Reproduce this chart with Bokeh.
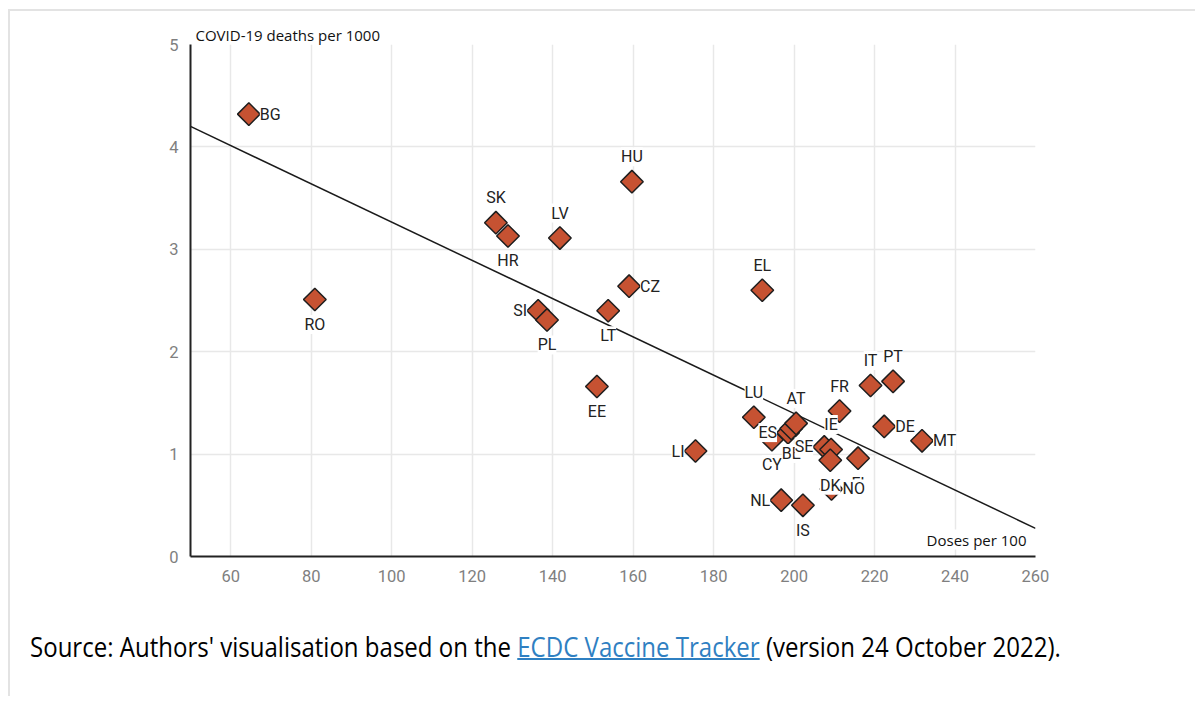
import math
from bokeh.plotting import figure
from bokeh.models import ColumnDataSource, FixedTicker, Label, Div, Range1d
from bokeh.layouts import column
from bokeh.embed import file_html
from bokeh.resources import INLINE
from bokeh.core.properties import value

# ---- data ----
countries = ["BG", "RO", "SK", "HR", "LV", "HU", "SI", "PL", "LT", "CZ",
             "EE", "EL", "LI", "LU", "CY", "ES", "BE", "AT", "FR", "IT",
             "PT", "DE", "MT", "SE", "IE", "DK", "FI", "NO", "NL", "IS"]
doses = [64.5, 80.9, 125.9, 128.9, 141.8, 159.7, 136.4, 138.6, 153.8, 159.0,
         151.0, 192.1, 175.5, 190.0, 194.5, 198.5, 199.3, 200.5, 211.3, 219.0,
         224.6, 222.4, 231.8, 207.5, 209.2, 209.0, 215.9, 209.3, 196.8, 202.2]
deaths = [4.32, 2.51, 3.26, 3.13, 3.11, 3.66, 2.40, 2.31, 2.40, 2.64,
          1.66, 2.60, 1.03, 1.36, 1.14, 1.21, 1.25, 1.30, 1.42, 1.67,
          1.71, 1.27, 1.13, 1.07, 1.045, 0.94, 0.96, 0.66, 0.55, 0.50]
label_side = ["r", "b", "a", "b", "a", "a", "l", "b", "b", "r",
              "b", "a", "l", "a", "b", "l", "b", "a", "a", "a",
              "a", "r", "r", "l", "a", "b", "b", "r", "l", "b"]

trend_x = [50, 260]
trend_y = [4.20, 0.275]

x_ticks = [60, 80, 100, 120, 140, 160, 180, 200, 220, 240, 260]
y_ticks = [0, 1, 2, 3, 4, 5]

# ---- label placement ----
off = {"r": (11, 0, "left"), "l": (-11, 0, "right"),
       "a": (0, -25, "center"), "b": (0, 25, "center")}
src = ColumnDataSource(dict(
    x=doses, y=deaths, name=countries,
    dx=[off[s][0] for s in label_side],
    dy=[off[s][1] for s in label_side],
    align=[off[s][2] for s in label_side],
))

p = figure(frame_width=845, frame_height=512,
           x_range=Range1d(50, 260), y_range=Range1d(0, 5),
           output_backend="svg", toolbar_location=None,
           min_border_left=180, min_border_top=33,
           min_border_right=150, min_border_bottom=40)
p.outline_line_color = None
p.background_fill_color = "white"
p.border_fill_color = "white"

p.title.text = "COVID-19 deaths per 1000"
p.title.text_font = "Open Sans"
p.title.text_font_size = "15px"
p.title.text_font_style = "normal"
p.title.text_color = "#111111"
p.title.align = "left"
p.title.offset = 5
p.title.standoff = 0

for ax in (p.xaxis[0], p.yaxis[0]):
    ax.axis_line_color = "#222222"
    ax.axis_line_width = 2
    ax.major_tick_line_color = None
    ax.minor_tick_line_color = None
    ax.major_tick_out = 0
    ax.major_tick_in = 0
    ax.minor_tick_out = 0
    ax.major_label_text_color = "#7f7f7f"
    ax.major_label_text_font = "Roboto"
    ax.major_label_text_font_size = "16.5px"
p.xaxis.ticker = FixedTicker(ticks=x_ticks)
p.yaxis.ticker = FixedTicker(ticks=y_ticks)
p.xaxis.major_label_standoff = 13
p.yaxis.major_label_standoff = 12

p.xgrid.ticker = FixedTicker(ticks=x_ticks)
p.ygrid.ticker = FixedTicker(ticks=y_ticks)
p.grid.grid_line_color = "#e8e8e8"
p.grid.grid_line_width = 1.5

p.line(trend_x, trend_y, line_color="#1a1a1a", line_width=1.5)

p.scatter("x", "y", source=src, marker="square", size=16, angle=math.pi / 4,
          fill_color="#C65232", line_color="#1e1e1e", line_width=1.5)

p.text("x", "y", text="name", source=src, x_offset="dx", y_offset="dy",
       text_align="align", text_baseline="middle",
       text_font=value("Roboto"), text_font_size="16px", text_color="#222222",
       background_fill_color="white", background_fill_alpha=1.0)

p.add_layout(Label(x=260, y=0, x_offset=-9, y_offset=17, text="Doses per 100",
                   text_baseline="middle", text_align="right", text_font="Open Sans",
                   text_font_size="15px", text_color="#111111",
                   background_fill_color="white"))

html = ('<div style="padding-top:27px;padding-left:15px;white-space:nowrap;">'
        '<span style="display:inline-block;font-family:\'Open Sans\';font-size:27px;'
        'color:#000;transform:scaleX(0.89);transform-origin:left center;">'
        'Source: Authors\' visualisation based on the '
        '<a href="#" style="color:#2f80c2;text-decoration:underline;'
        'text-decoration-thickness:2px;">ECDC Vaccine Tracker</a>'
        ' (version 24 October 2022).</span></div>')
div = Div(text=html, width=1175, height=90)

layout = column(p, div, styles={"border-left": "2px solid #e3e3e3",
                                "border-top": "2px solid #e3e3e3",
                                "margin-left": "8px", "margin-top": "9px"})

open("out.html", "w").write(file_html(layout, INLINE))
